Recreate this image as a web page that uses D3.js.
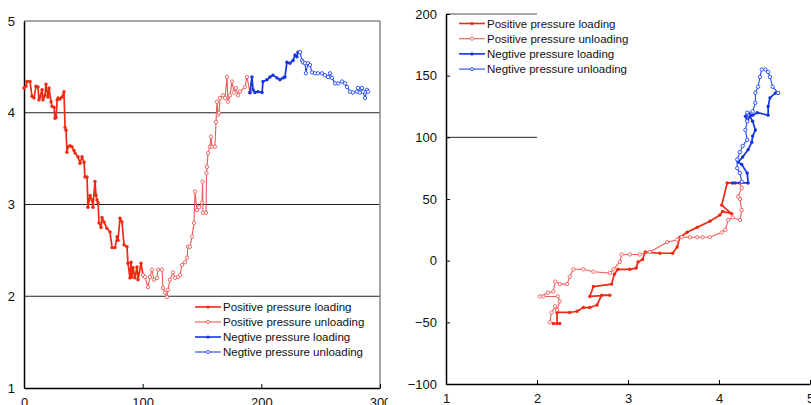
<!DOCTYPE html>
<html>
<head>
<meta charset="utf-8">
<script src="https://cdn.jsdelivr.net/npm/d3@7"></script>
<style>
  body { margin: 0; background: #fff; }
  svg { display: block; }
  text { font-family: "Liberation Sans", Arial, Helvetica, sans-serif; fill: #111; }
</style>
</head>
<body>
<div id="chart"></div>
<script>
// time series: [time, value]
const posLoading = [[0,4.27],[1.7,4.29],[2.5,4.34],[5.1,4.34],[6.7,4.18],[8.4,4.16],[10.1,4.29],[11.8,4.28],[12.6,4.14],[13.5,4.17],[15.2,4.25],[16,4.14],[17.7,4.19],[18.5,4.31],[20.2,4.17],[21.1,4.27],[22.8,4.12],[23.6,4.07],[25.3,4.06],[26.1,3.94],[27,3.95],[28,4.14],[28.7,4.16],[30.3,4.15],[32,4.17],[33.7,4.23],[34.6,3.84],[35.4,3.81],[36.2,3.57],[37.1,3.63],[38.8,3.64],[40.4,3.63],[42.1,3.59],[43,3.56],[45.5,3.52],[47.2,3.45],[48.9,3.52],[50.6,3.46],[51.4,3.30],[53.1,3.30],[53.9,2.97],[55.6,3.10],[57.3,3.05],[58.1,2.97],[59.8,3.25],[60.7,3.10],[61.5,3.05],[62.4,3.02],[63.2,2.80],[64.9,2.75],[65.7,2.86],[67.4,2.81],[69.9,2.74],[72.5,2.70],[74.2,2.53],[76.7,2.53],[78.4,2.65],[79.2,2.61],[80.9,2.85],[82.6,2.81],[84.3,2.56],[86.8,2.54],[87.6,2.36],[89.3,2.20],[90.2,2.37],[91,2.21],[91.9,2.31],[93.5,2.20],[95.2,2.32],[96.1,2.18],[98.6,2.36],[100.3,2.23]];
const posUnloading = [[100.3,2.23],[102,2.21],[104.5,2.10],[106.2,2.21],[107.9,2.29],[109.5,2.18],[112.1,2.20],[112.9,2.29],[116.3,2.29],[117.1,2.09],[118.8,2.04],[120.5,1.99],[121.3,2.07],[123,2.18],[125.6,2.26],[127.2,2.20],[129.8,2.21],[131.5,2.23],[133.1,2.34],[135.7,2.37],[137.4,2.42],[138.2,2.54],[139.9,2.54],[141.6,2.65],[143.3,2.80],[144.1,3.14],[145.8,2.94],[147.5,2.97],[150,3.02],[150.5,3.25],[150.8,2.91],[153.4,2.91],[153.8,3.34],[154.2,3.41],[155.1,3.56],[156.7,3.63],[157.6,3.74],[158.4,3.63],[160.9,3.63],[161.8,3.90],[162.6,4.12],[163.5,3.98],[164.3,4.00],[165.2,4.16],[167.7,4.19],[169.4,4.16],[171.1,4.39],[171.9,4.12],[173.6,4.19],[175.3,4.34],[177,4.22],[178.6,4.27],[180.3,4.19],[182,4.23],[186.2,4.28],[187.9,4.39],[190.4,4.22]];
const negLoading = [[190.4,4.22],[192.1,4.39],[193,4.25],[194.7,4.22],[197.2,4.23],[200.6,4.22],[201.4,4.34],[204.8,4.36],[207.3,4.39],[209.8,4.41],[213.2,4.38],[215.7,4.36],[218.3,4.38],[219.9,4.39],[221.6,4.55],[224.1,4.54],[226.7,4.57],[228.4,4.63],[230,4.61],[230.9,4.66],[232.6,4.66]];
const negUnloading = [[232.6,4.66],[234.3,4.57],[235.1,4.55],[236.8,4.54],[237.6,4.43],[239.3,4.54],[241,4.52],[242.7,4.44],[245.2,4.43],[247.7,4.43],[251.1,4.43],[253.6,4.41],[256.2,4.39],[257.9,4.43],[259.5,4.38],[262.1,4.32],[264.6,4.32],[268,4.34],[270.5,4.32],[272.2,4.28],[274.7,4.23],[277.2,4.22],[280.6,4.23],[281.5,4.27],[283.1,4.22],[284.8,4.27],[285.7,4.23],[287.4,4.16],[289,4.25],[289.9,4.23]];

// hysteresis: [value, pressure]
const hPosLoading = [[4.18,63],[4.09,63],[4.03,45],[4.14,38],[4.04,40],[4.01,37],[3.90,32],[3.76,27],[3.65,23],[3.57,19],[3.54,11],[3.49,6],[3.35,6],[3.19,7],[3.16,1],[3.11,-1],[3.09,-6],[3.02,-7],[2.89,-7],[2.85,-11],[2.82,-19],[2.62,-21],[2.58,-29],[2.80,-28],[2.71,-28],[2.66,-36],[2.58,-38],[2.51,-38],[2.44,-41],[2.36,-42],[2.22,-42],[2.22,-51],[2.25,-51],[2.18,-51]];
const hPosUnloading = [[2.14,-50],[2.16,-42],[2.20,-37],[2.22,-40],[2.25,-33],[2.23,-29],[2.07,-29],[2.03,-29],[2.12,-26],[2.18,-25],[2.20,-17],[2.25,-19],[2.33,-19],[2.36,-13],[2.40,-7],[2.51,-7],[2.62,-9],[2.80,-10],[2.84,-7],[2.91,-1],[2.93,5],[3.02,5],[3.13,5],[3.24,7],[3.43,15],[3.54,17],[3.59,19],[3.68,19],[3.76,19],[3.82,19],[3.90,19],[4.03,23],[4.07,25],[4.10,33],[4.15,35],[4.23,33],[4.25,41],[4.23,50],[4.21,52],[4.25,59],[4.23,63]];
const hNegLoading = [[4.15,63],[4.32,63],[4.31,71],[4.25,78],[4.21,80],[4.26,84],[4.32,90],[4.36,96],[4.37,101],[4.40,106],[4.37,113],[4.34,117],[4.31,113],[4.29,117],[4.31,120],[4.37,118],[4.42,120],[4.54,118],[4.54,125],[4.56,132],[4.62,136],[4.65,136]];
const hNegUnloading = [[4.65,136],[4.59,141],[4.56,149],[4.54,153],[4.51,155],[4.47,155],[4.45,149],[4.43,141],[4.40,136],[4.40,128],[4.37,121],[4.31,120],[4.31,113],[4.29,106],[4.31,98],[4.26,93],[4.23,88],[4.20,82],[4.20,75],[4.23,71],[4.25,64]];

const seriesNames = ["Positive pressure loading", "Positive pressure unloading", "Negtive pressure loading", "Negtive pressure unloading"];
const leftTicksX = [0, 100, 200, 300];
const leftTicksY = [1, 2, 3, 4, 5];
const rightTicksX = [1, 2, 3, 4, 5];
const rightTicksY = [-100, -50, 0, 50, 100, 150, 200];

const styles = [
  { color: "#ee2a12", width: 1.7, open: false },
  { color: "#ef5b5b", width: 1.1, open: true },
  { color: "#1434e2", width: 1.7, open: false },
  { color: "#2148f0", width: 1.1, open: true }
];

const svg = d3.select("#chart").append("svg")
  .attr("width", 811)
  .attr("height", 405);

// ---------- left panel ----------
const left = svg.append("svg").attr("x", 0).attr("y", 0).attr("width", 388).attr("height", 405)
  .style("overflow", "hidden");

const x1 = d3.scaleLinear().domain([0, 300]).range([24, 380]);
const y1 = d3.scaleLinear().domain([1, 5]).range([388, 21]);

// grid + frame
left.selectAll(".grid")
  .data([2, 3, 4])
  .join("line")
  .attr("x1", x1(0)).attr("x2", x1(300))
  .attr("y1", d => y1(d)).attr("y2", d => y1(d))
  .attr("stroke", "#222").attr("stroke-width", 1);
left.append("line").attr("x1", x1(0)).attr("x2", x1(300)).attr("y1", y1(5)).attr("y2", y1(5))
  .attr("stroke", "#888").attr("stroke-width", 1.5);
left.append("line").attr("x1", x1(300)).attr("x2", x1(300)).attr("y1", y1(5)).attr("y2", y1(1))
  .attr("stroke", "#888").attr("stroke-width", 1.5);

const ax1 = left.append("g").attr("transform", `translate(0,${y1(1)})`)
  .call(d3.axisBottom(x1).tickValues(leftTicksX).tickFormat(d3.format("d"))
    .tickSizeInner(-4).tickSizeOuter(0).tickPadding(10));
const ay1 = left.append("g").attr("transform", `translate(${x1(0)},0)`)
  .call(d3.axisLeft(y1).tickValues(leftTicksY).tickFormat(d3.format("d"))
    .tickSizeInner(0).tickSizeOuter(0).tickPadding(9));

// ---------- right panel ----------
const x2 = d3.scaleLinear().domain([1, 5]).range([446, 810]);
const y2 = d3.scaleLinear().domain([-100, 200]).range([384, 14]);
const right = svg.append("g");

right.append("line").attr("x1", x2(1)).attr("x2", x2(2)).attr("y1", y2(200)).attr("y2", y2(200))
  .attr("stroke", "#888").attr("stroke-width", 1.5);
right.append("line").attr("x1", x2(1)).attr("x2", x2(2)).attr("y1", y2(100)).attr("y2", y2(100))
  .attr("stroke", "#222").attr("stroke-width", 1);

const ax2 = right.append("g").attr("transform", `translate(0,${y2(-100)})`)
  .call(d3.axisBottom(x2).tickValues(rightTicksX).tickFormat(d3.format("d"))
    .tickSizeInner(-4).tickSizeOuter(0).tickPadding(10));
const ay2 = right.append("g").attr("transform", `translate(${x2(1)},0)`)
  .call(d3.axisLeft(y2).tickValues(rightTicksY).tickFormat(d3.format("d"))
    .tickSizeInner(-4).tickSizeOuter(0).tickPadding(9));

[ax1, ay1, ax2, ay2].forEach(a => {
  a.select(".domain").attr("stroke", "#000").attr("stroke-width", 1.5);
  a.selectAll("text").attr("font-size", 13).style("font-family", "'Liberation Sans', Arial, sans-serif").attr("fill", "#111");
  a.selectAll(".tick line").attr("stroke", "#000");
});

function drawSeries(g, data, st, xs, ys) {
  const line = d3.line().x(d => xs(d[0])).y(d => ys(d[1]));
  g.append("path").datum(data)
    .attr("d", line)
    .attr("fill", "none")
    .attr("stroke", st.color)
    .attr("stroke-width", st.width)
    .attr("stroke-linejoin", "round");
  g.append("g").selectAll("circle")
    .data(data)
    .join("circle")
    .attr("cx", d => xs(d[0]))
    .attr("cy", d => ys(d[1]))
    .attr("r", 1.7)
    .attr("fill", st.open ? "#fff" : st.color)
    .attr("stroke", st.color)
    .attr("stroke-width", st.open ? 0.9 : 0);
}

const leftData = [posLoading, posUnloading, negLoading, negUnloading];
leftData.forEach((d, i) => drawSeries(left, d, styles[i], x1, y1));
const rightData = [hPosLoading, hPosUnloading, hNegLoading, hNegUnloading];
rightData.forEach((d, i) => drawSeries(right, d, styles[i], x2, y2));

function legend(g, x0, y0, dy) {
  const items = g.append("g").selectAll("g")
    .data(seriesNames)
    .join("g")
    .attr("transform", (d, i) => `translate(${x0},${y0 + i * dy})`);
  items.append("line")
    .attr("x1", 0).attr("x2", 26).attr("y1", 0).attr("y2", 0)
    .attr("stroke", (d, i) => styles[i].color)
    .attr("stroke-width", (d, i) => styles[i].open ? 1.1 : 1.6);
  items.append("circle")
    .attr("cx", 13).attr("cy", 0).attr("r", 1.6)
    .attr("fill", (d, i) => styles[i].open ? "#fff" : styles[i].color)
    .attr("stroke", (d, i) => styles[i].color)
    .attr("stroke-width", (d, i) => styles[i].open ? 0.9 : 0);
  items.append("text")
    .attr("x", 28).attr("y", 0).attr("dy", "0.35em")
    .attr("font-size", 11.5)
    .text(d => d);
}
legend(left, 195, 307, 15);
legend(right, 459, 23.5, 15.2);
</script>
</body>
</html>
